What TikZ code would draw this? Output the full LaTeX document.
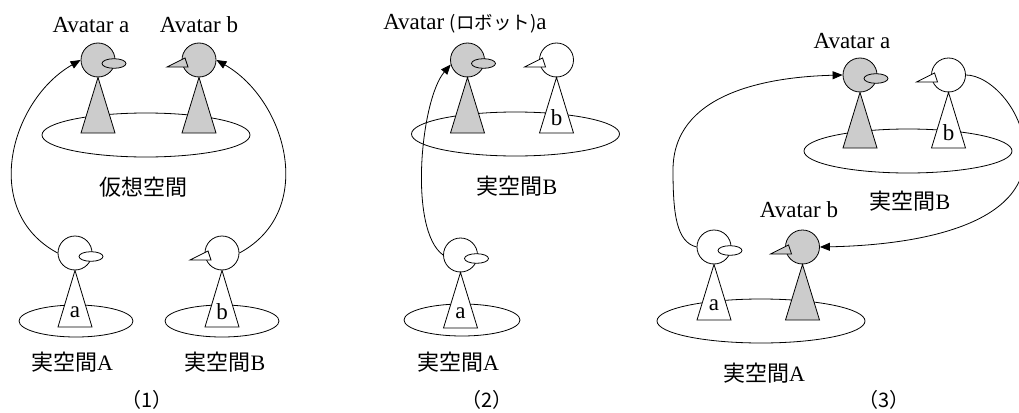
\documentclass[tikz,border=0pt]{standalone}
\usepackage{fontspec}
\setmainfont{Liberation Serif}
\newfontfamily\jp{Noto Sans CJK JP}
\usetikzlibrary{arrows.meta}
\definecolor{avgray}{RGB}{204,204,204}

\tikzset{
  ground/.style={draw, line width=0.8pt},
  headnode/.style={circle, draw, line width=0.8pt, minimum size=34pt, inner sep=0pt},
  bodytri/.style={draw, line width=0.8pt, line join=miter},
  feature/.style={draw, line width=0.8pt},
  link/.style={draw, line width=0.8pt, -{Triangle[length=10pt,width=8pt]}},
  lbl/.style={font=\fontsize{23}{26}\selectfont, inner sep=0pt},
  jlbl/.style={font=\fontsize{22}{26}\selectfont, inner sep=0pt},
  numlbl/.style={font=\fontsize{20}{24}\selectfont\jp, inner sep=0pt},
}

% head node + triangular body: name, head x, head y, base y, fill
\newcommand\avperson[5]{%
  \node[headnode, fill=#5] (#1) at (#2,#3) {};
  \path[bodytri, fill=#5] (#1.south) -- (#2-17,#4) -- (#2+17,#4) -- cycle;
}
% letter on the body: name, x, base y, text
\newcommand\avletter[4]{%
  \node[lbl] (#1-lbl) at (#2,#3-15) {#4};
}
% oval eye to the right of the head
\newcommand\aveye[2]{%
  \path[feature, fill=#2] ([shift={(16,3.5)}]#1.center) ellipse [x radius=12pt, y radius=4.8pt];
}
% pointed beak to the left of the head
\newcommand\avbeak[2]{%
  \path[feature, fill=#2, line join=miter] ([shift={(-32,7)}]#1.center) -- ([shift={(-14,-2)}]#1.center) -- ([shift={(-11,7)}]#1.center) -- cycle;
}

\begin{document}
\begin{tikzpicture}[x=1pt, y=-1pt]
\useasboundingbox (0,0) rectangle (1019,412);
\fill[white] (0,0) rectangle (1019,412);
\clip (0,0) rectangle (1019,412);

% ---------------- (1) ----------------
\draw[ground] (146,135) ellipse [x radius=104pt, y radius=22pt];
\draw[ground] (76,321) ellipse [x radius=57pt, y radius=16pt];
\draw[ground] (222,321) ellipse [x radius=57pt, y radius=16pt];

\avperson{g1a}{98}{60}{133}{avgray}
\aveye{g1a}{avgray}
\avperson{g1b}{199}{60}{133}{avgray}
\avbeak{g1b}{avgray}
\avperson{l1a}{75}{253}{327}{white}
\aveye{l1a}{white}
\avletter{l1a}{75}{327}{a}
\avperson{l1b}{222}{253}{327}{white}
\avbeak{l1b}{white}
\avletter{l1b}{222}{327}{b}

\node[lbl] (t1a) at (91,25) {Avatar a};
\node[lbl] (t1b) at (199,25) {Avatar b};
\node[jlbl] (t1v) at (143,187) {\jp 仮想空間};
\node[jlbl] (t1A) at (72,362) {{\jp 実空間}A};
\node[jlbl] (t1B) at (225,362) {{\jp 実空間}B};
\node[numlbl] (n1) at (147,400) {（1）};

\draw[link] (l1a.west) .. controls +(-78,-42) and +(-70,40) .. (g1a.west);
\draw[link] (l1b.east) .. controls +(78,-42) and +(70,40) .. (g1b.east);

% ---------------- (2) ----------------
\draw[ground] (515.5,134) ellipse [x radius=104pt, y radius=22pt];
\draw[ground] (462,320) ellipse [x radius=58pt, y radius=16pt];

\avperson{g2a}{467.5}{60}{133}{avgray}
\aveye{g2a}{avgray}
\avperson{w2b}{556.5}{60}{133}{white}
\avbeak{w2b}{white}
\avletter{w2b}{556.5}{133}{b}
\avperson{l2a}{460.5}{255}{328}{white}
\aveye{l2a}{white}
\avletter{l2a}{460.5}{328}{a}

\node[lbl] (t2a) at (465,24) {Avatar {\jp\fontsize{18.5}{22}\selectfont (ロボット)}a};
\node[jlbl] (t2B) at (517,186) {{\jp 実空間}B};
\node[jlbl] (t2A) at (458,362) {{\jp 実空間}A};
\node[numlbl] (n2) at (487,400) {（2）};

\draw[link] (l2a.west) .. controls +(-35,-25) and +(-30,35) .. (g2a.195);

% ---------------- (3) ----------------
\draw[ground] (908,151) ellipse [x radius=104pt, y radius=22pt];
\draw[ground] (761,321) ellipse [x radius=104pt, y radius=22pt];

\avperson{g3a}{860}{75}{148}{avgray}
\aveye{g3a}{avgray}
\avperson{w3b}{948.5}{75}{148}{white}
\avbeak{w3b}{white}
\avletter{w3b}{948.5}{148}{b}
\avperson{w3a}{714}{247}{320}{white}
\aveye{w3a}{white}
\avletter{w3a}{714}{320}{a}
\avperson{g3b}{802.5}{247}{320}{avgray}
\avbeak{g3b}{avgray}

\node[lbl] (t3a) at (852,41) {Avatar a};
\node[lbl] (t3b) at (799,210) {Avatar b};
\node[jlbl] (t3B) at (910,201) {{\jp 実空間}B};
\node[jlbl] (t3A) at (764,373) {{\jp 実空間}A};
\node[numlbl] (n3) at (884,400) {（3）};

\coordinate (p3bend) at (673,170);
\coordinate (p3out) at (1025,155);
\draw[link] (w3a.west) .. controls +(-20,-5) and +(0,45) .. (p3bend)
  .. controls +(0,-75) and +(-80,2) .. (g3a.west);
\draw[link] (w3b.east) .. controls +(24,0) and +(0,-45) .. (p3out)
  .. controls +(0,70) and +(100,-2) .. (g3b.east);
\end{tikzpicture}
\end{document}
